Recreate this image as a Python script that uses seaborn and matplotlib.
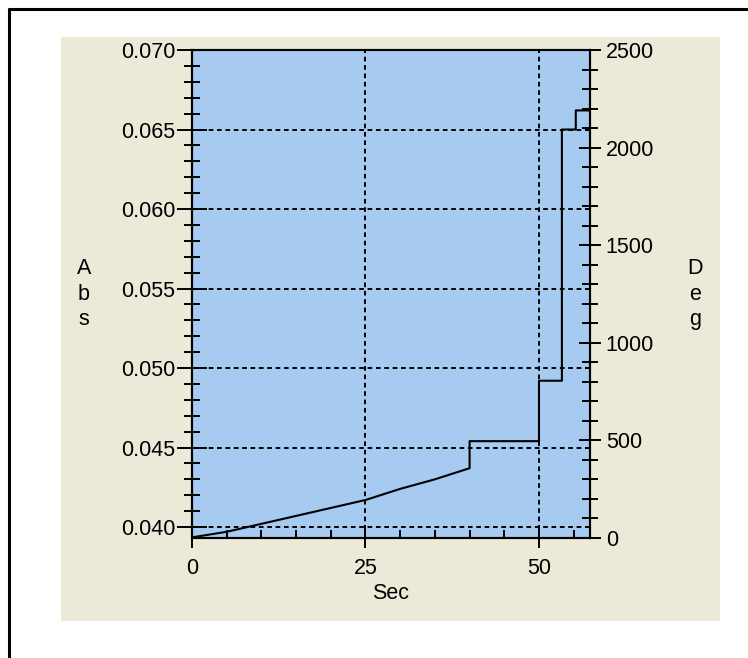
import matplotlib
matplotlib.use('Agg')
import matplotlib.pyplot as plt
from matplotlib.patches import Rectangle
from matplotlib.lines import Line2D
from matplotlib.ticker import MultipleLocator
import numpy as np
import seaborn as sns

# data (Sec vs Abs)
sec = [0, 5, 10, 15, 20, 25, 30, 35, 40, 40, 50, 50, 53.3, 53.3, 55.3, 55.3, 57.35]
absorb = [0.03935, 0.0397, 0.0402, 0.0407, 0.0412, 0.0417, 0.0424, 0.0430, 0.0437,
          0.0454, 0.0454, 0.0492, 0.0492, 0.0650, 0.0650, 0.0662, 0.0662]

x_ticks = [0, 25, 50]
abs_ticks = [0.040, 0.045, 0.050, 0.055, 0.060, 0.065, 0.070]
deg_ticks = [0, 500, 1000, 1500, 2000, 2500]

sns.set_theme(style='ticks')
plt.rcParams['font.family'] = ['Liberation Sans', 'DejaVu Sans']
fs = 15.5
plt.rcParams.update({'font.size': fs, 'xtick.labelsize': fs, 'ytick.labelsize': fs,
                     'axes.labelsize': fs, 'text.color': 'black', 'axes.labelcolor': 'black',
                     'xtick.color': 'black', 'ytick.color': 'black'})

W, H = 748, 658
fig = plt.figure(figsize=(W / 100, H / 100), dpi=100)
fig.patch.set_facecolor('white')

# beige panel + window frame lines
fig.add_artist(Rectangle((61 / W, 1 - 621 / H), (720 - 61) / W, (621 - 37) / H,
                         transform=fig.transFigure, facecolor='#ECE9D8', edgecolor='none', zorder=-5))
fig.add_artist(Line2D([8.5 / W, 8.5 / W], [0, 1 - 9 / H], transform=fig.transFigure, color='black', lw=2.2))
fig.add_artist(Line2D([8.5 / W, 1], [1 - 9 / H, 1 - 9 / H], transform=fig.transFigure, color='black', lw=2.2))

ax = fig.add_axes([192 / W, 1 - 538 / H, (590 - 192) / W, (538 - 50) / H])
ax.set_facecolor('#A6CAF0')

sns.lineplot(x=sec, y=absorb, ax=ax, sort=False, estimator=None, color='black', lw=1.5)

ax.set_xlim(0, 57.35)
ax.set_ylim(0.03931, 0.070)
ax.set_xticks(x_ticks)
ax.set_yticks(abs_ticks)
ax.set_yticklabels([f'{v:.3f}' for v in abs_ticks])
ax.xaxis.set_minor_locator(MultipleLocator(5))
ax.yaxis.set_minor_locator(MultipleLocator(0.001))

dash = (0, (2.4, 1.9))
ax.grid(True, which='major', axis='both', color='black', lw=1.4, linestyle=dash)

ax.tick_params(axis='y', which='major', direction='inout', length=21, width=1.4, pad=1.5)
ax.tick_params(axis='y', which='minor', direction='inout', length=11.5, width=1.4)
ax.tick_params(axis='x', which='major', direction='inout', length=14.4, width=1.4, pad=7)
ax.tick_params(axis='x', which='minor', direction='in', length=5.8, width=1.4)
for s in ax.spines.values():
    s.set_color('black')
    s.set_linewidth(1.5)

ax.set_xlabel('Sec', labelpad=3)
ax.set_ylabel('A\nb\ns', rotation=0, va='center', ha='center', linespacing=1.3)
ax.yaxis.set_label_coords((84 - 192) / 398, 0.5)

ax2 = ax.twinx()
ax2.set_ylim(0, 2500)
ax2.set_yticks(deg_ticks)
ax2.yaxis.set_minor_locator(MultipleLocator(100))
ax2.tick_params(axis='y', which='major', direction='inout', length=15.8, width=1.4, pad=3.5)
ax2.tick_params(axis='y', which='minor', direction='inout', length=11.5, width=1.4)
for s in ax2.spines.values():
    s.set_color('black')
    s.set_linewidth(1.5)
ax2.set_ylabel('D\ne\ng', rotation=0, va='center', ha='center', linespacing=1.3)
ax2.yaxis.set_label_coords((695 - 192) / 398, 0.5)

fig.savefig('out.png', dpi=100)
